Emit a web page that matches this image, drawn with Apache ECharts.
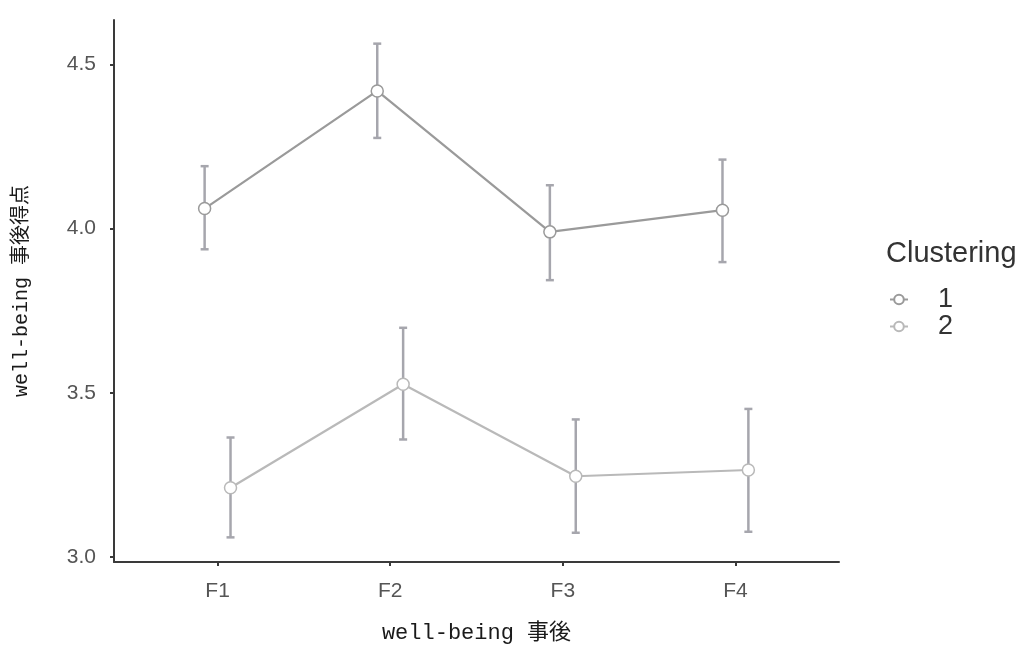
<!DOCTYPE html>
<html>
<head>
<meta charset="utf-8">
<script src="https://cdn.jsdelivr.net/npm/echarts@6/dist/echarts.min.js"></script>
<style>
  html, body { margin: 0; padding: 0; background: #fff; }
  #chart { width: 1031px; height: 650px; }
</style>
</head>
<body>
<div id="chart"></div>
<script>
// Factor labels on the x axis
const categories = ['F1', 'F2', 'F3', 'F4'];
// Mean well-being score per factor, one array per cluster
const cluster1Mean = [4.061, 4.419, 3.990, 4.056];
const cluster2Mean = [3.211, 3.526, 3.246, 3.265];
// Error bar extents (lower / upper) per factor
const cluster1Low  = [3.937, 4.276, 3.843, 3.898];
const cluster1High = [4.190, 4.563, 4.132, 4.210];
const cluster2Low  = [3.060, 3.358, 3.074, 3.077];
const cluster2High = [3.364, 3.698, 3.419, 3.451];
// Y tick labels
const yTicks = [3.0, 3.5, 4.0, 4.5];
const seriesNames = ['1', '2'];

const dodge = 0.075;            // horizontal dodge between the two clusters
const color1 = '#9a9a9a';
const color2 = '#b9b9b9';
const barColor = '#a6a6ad';
const sans = '"Liberation Sans", Arial, sans-serif';
const monoCJK = '"Liberation Mono", "Noto Sans CJK JP", monospace';

function points(means, shift) {
  return means.map((v, i) => [i + 1 + shift, v]);
}
function bars(lows, highs, shift) {
  return lows.map((lo, i) => [i + 1 + shift, lo, highs[i]]);
}

function renderBar(params, api) {
  const x = api.value(0);
  const lo = api.coord([x, api.value(1)]);
  const hi = api.coord([x, api.value(2)]);
  const half = 4;
  const style = { stroke: barColor, lineWidth: 2.5 };
  return {
    type: 'group',
    children: [
      { type: 'line', shape: { x1: lo[0], y1: lo[1], x2: hi[0], y2: hi[1] }, style },
      { type: 'line', shape: { x1: lo[0] - half, y1: lo[1], x2: lo[0] + half, y2: lo[1] }, style },
      { type: 'line', shape: { x1: hi[0] - half, y1: hi[1], x2: hi[0] + half, y2: hi[1] }, style }
    ]
  };
}

const chart = echarts.init(document.getElementById('chart'), null, { renderer: 'canvas' });

chart.setOption({
  animation: false,
  backgroundColor: '#ffffff',
  grid: { left: 114, right: 192, top: 20, bottom: 88 },
  xAxis: {
    type: 'value',
    min: 0.4,
    max: 4.6,
    name: 'well-being 事後',
    nameLocation: 'middle',
    nameGap: 60,
    nameTextStyle: { fontFamily: monoCJK, fontSize: 22, color: '#1a1a1a' },
    axisLine: { show: true, lineStyle: { color: '#3a3a3a', width: 2 } },
    axisTick: { show: true, length: 4, lineStyle: { color: '#3a3a3a', width: 2 }, customValues: [1, 2, 3, 4] },
    axisLabel: {
      customValues: [1, 2, 3, 4],
      formatter: v => categories[Math.round(v) - 1],
      fontFamily: sans,
      fontSize: 21,
      color: '#555555',
      margin: 19
    },
    splitLine: { show: false }
  },
  yAxis: {
    type: 'value',
    min: 2.985,
    max: 4.635,
    name: 'well-being 事後得点',
    nameLocation: 'middle',
    nameGap: 82,
    nameRotate: 90,
    nameTextStyle: { fontFamily: monoCJK, fontSize: 20, color: '#1a1a1a' },
    axisLine: { show: true, lineStyle: { color: '#3a3a3a', width: 2 } },
    axisTick: { show: true, length: 4, lineStyle: { color: '#3a3a3a', width: 2 }, customValues: yTicks },
    axisLabel: {
      customValues: yTicks,
      formatter: v => v.toFixed(1),
      fontFamily: sans,
      fontSize: 21,
      color: '#555555',
      margin: 18
    },
    splitLine: { show: false }
  },
  legend: {
    orient: 'vertical',
    left: 884,
    top: 281,
    itemWidth: 18,
    itemHeight: 12,
    itemGap: 0,
    data: seriesNames,
    textStyle: { fontFamily: sans, fontSize: 27, color: '#333333', padding: [0, 0, 0, 25] }
  },
  graphic: [{
    type: 'text',
    left: 886,
    top: 239,
    style: { text: 'Clustering', fontFamily: sans, fontSize: 29, fill: '#333333' }
  }],
  series: [
    {
      type: 'custom',
      name: 'err1',
      renderItem: renderBar,
      data: bars(cluster1Low, cluster1High, -dodge),
      z: 1,
      silent: true
    },
    {
      type: 'custom',
      name: 'err2',
      renderItem: renderBar,
      data: bars(cluster2Low, cluster2High, dodge),
      z: 1,
      silent: true
    },
    {
      type: 'line',
      name: seriesNames[0],
      data: points(cluster1Mean, -dodge),
      symbol: 'circle',
      symbolSize: 12,
      color: color1,
      lineStyle: { color: color1, width: 2.2 },
      itemStyle: { color: '#ffffff', borderColor: color1, borderWidth: 1.5 },
      z: 3
    },
    {
      type: 'line',
      name: seriesNames[1],
      data: points(cluster2Mean, dodge),
      symbol: 'circle',
      symbolSize: 12,
      color: color2,
      lineStyle: { color: color2, width: 2.2 },
      itemStyle: { color: '#ffffff', borderColor: color2, borderWidth: 1.5 },
      z: 3
    }
  ]
});
</script>
</body>
</html>
